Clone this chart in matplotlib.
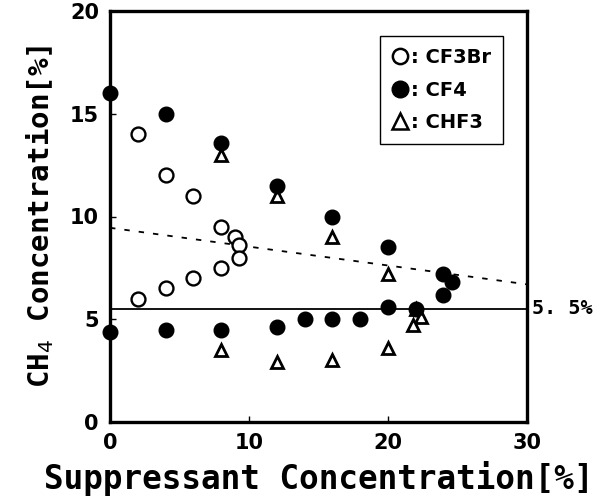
import matplotlib
matplotlib.use('Agg')
import matplotlib.pyplot as plt
from matplotlib.lines import Line2D

# CF3Br (open circles)
cf3br_x = [2, 4, 6, 8, 9, 9.3, 9.3, 8, 6, 4, 2]
cf3br_y = [14.0, 12.0, 11.0, 9.5, 9.0, 8.6, 8.0, 7.5, 7.0, 6.5, 6.0]

# CF4 (filled circles)
cf4_x = [0, 4, 8, 12, 16, 20, 24, 24.6, 24, 22, 20, 18, 16, 14, 12, 8, 4, 0]
cf4_y = [16.0, 15.0, 13.6, 11.5, 10.0, 8.5, 7.2, 6.8, 6.2, 5.5, 5.6, 5.0, 5.0, 5.0, 4.6, 4.5, 4.5, 4.4]

# CHF3 (open triangles)
chf3_x = [8, 12, 16, 20, 22, 22.4, 21.8, 20, 16, 12, 8]
chf3_y = [13.0, 11.0, 9.0, 7.2, 5.5, 5.1, 4.7, 3.6, 3.0, 2.9, 3.5]

# reference lines
dash_x = [0, 30]
dash_y = [9.45, 6.7]
limit_level = 5.5

mono = 'DejaVu Sans Mono'


def main():
    fig = plt.figure(figsize=(5.98, 5.0), dpi=100)
    ax = fig.add_axes([0.184, 0.156, 0.697, 0.822])

    ax.plot(dash_x, dash_y, color='black', lw=1.3, ls=(0, (3, 5)))
    ax.axhline(limit_level, color='black', lw=1.3)

    ax.plot(cf3br_x, cf3br_y, 'o', ls='none', ms=10, mfc='white', mec='black', mew=1.7)
    ax.plot(chf3_x, chf3_y, '^', ls='none', ms=8, mfc='white', mec='black', mew=2.0)
    ax.plot(cf4_x, cf4_y, 'o', ls='none', ms=10.5, color='black', clip_on=False, zorder=5)

    ax.set_xlim(0, 30)
    ax.set_ylim(0, 20)
    ax.set_xticks([0, 10, 20, 30])
    ax.set_yticks([0, 5, 10, 15, 20])
    ax.tick_params(direction='in', length=4, width=1, labelsize=15, pad=8)
    for lab in ax.get_xticklabels() + ax.get_yticklabels():
        lab.set_fontweight('bold')
    for s in ax.spines.values():
        s.set_linewidth(2.4)

    ax.set_xlabel('Suppressant Concentration[%]', fontfamily=mono,
                  fontweight='bold', fontsize=23.5, labelpad=6)
    ax.set_ylabel('CH$_4$ Concentration[%]', fontfamily=mono,
                  fontweight='bold', fontsize=21, labelpad=10)

    ax.text(30.35, limit_level, '5. 5%', fontfamily=mono, fontweight='bold',
            fontsize=14.5, va='center', ha='left', clip_on=False)

    handles = [
        Line2D([], [], marker='o', ls='none', ms=11, mfc='white', mec='black', mew=1.8),
        Line2D([], [], marker='o', ls='none', ms=12, color='black'),
        Line2D([], [], marker='^', ls='none', ms=11, mfc='white', mec='black', mew=1.8),
    ]
    leg = ax.legend(handles, [': CF3Br', ': CF4', ': CHF3'], loc='upper right',
                    bbox_to_anchor=(0.966, 0.962), fancybox=False, framealpha=1,
                    edgecolor='black', handlelength=0.8, handletextpad=0.2,
                    labelspacing=0.7, borderpad=0.6,
                    prop={'size': 14, 'weight': 'bold'})
    leg.get_frame().set_linewidth(1.0)

    fig.savefig('out.png', dpi=100)


if __name__ == '__main__':
    main()
